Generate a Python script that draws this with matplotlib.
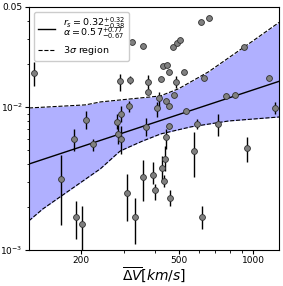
import numpy as np
import matplotlib
matplotlib.use("Agg")
import matplotlib.pyplot as plt

# data points: mean velocity dispersion (km/s), value, error bar ends
x_pts = [128.8, 209.6, 187.3, 223.8, 165.9, 190.9, 201.9, 288.1, 316.4, 313.4,
         290.8, 280.2, 282.8, 290.8, 322.3, 357.3, 473.2, 491.1, 505.1, 614.9,
         662.7, 919.5, 1162, 632.4, 524.4, 430.8, 447.3, 455.7, 422.9, 486.6,
         374.5, 374.5, 477.5, 415.1, 443.1, 455.7, 407.4, 534.3, 776.8, 845.3,
         1218, 367.5, 455.7, 592.2, 721.1, 443.1, 439.0, 426.9, 434.9, 399.8,
         392.4, 357.3, 307.6, 331.5, 460.1, 575.8, 945.7, 620.8]
y_pts = [0.01729, 0.00811, 0.00597, 0.00551, 0.00314, 0.00170, 0.00152, 0.01520, 0.01545, 0.01016,
         0.00894, 0.00786, 0.00648, 0.00597, 0.02848, 0.02671, 0.02628, 0.02803, 0.02941, 0.03930,
         0.04194, 0.02628, 0.01595, 0.01595, 0.01757, 0.01935, 0.01966, 0.01757, 0.01570, 0.01496,
         0.01496, 0.01273, 0.01213, 0.01156, 0.01101, 0.01016, 0.00984, 0.00938, 0.01193, 0.01213,
         0.00984, 0.00724, 0.00736, 0.00760, 0.00760, 0.00617, 0.00433, 0.00374, 0.00304, 0.00263,
         0.00335, 0.00324, 0.00250, 0.00170, 0.00231, 0.00492, 0.00517, 0.00170]
y_low = [0.01402, 0.00702, 0.00492, 0.00492, 0.00150, 0.00119, 0.00095, 0.01294, 0.01448, 0.00923,
         0.00786, 0.00702, 0.00551, 0.00469, 0.02848, 0.02671, 0.02628, 0.02803, 0.02941, 0.03930,
         0.04194, 0.02628, 0.01595, 0.01595, 0.01757, 0.01935, 0.01966, 0.01757, 0.01570, 0.01358,
         0.01336, 0.01273, 0.01213, 0.00968, 0.01101, 0.01016, 0.00851, 0.00938, 0.01193, 0.01213,
         0.00894, 0.00627, 0.00736, 0.00702, 0.00627, 0.00509, 0.00357, 0.00299, 0.00276, 0.00224,
         0.00289, 0.00220, 0.00160, 0.00110, 0.00203, 0.00324, 0.00412, 0.00140]
y_high = [0.02064, 0.00938, 0.00702, 0.00597, 0.00462, 0.00220, 0.00203, 0.01701, 0.01647, 0.01101,
          0.01016, 0.00894, 0.00760, 0.00736, 0.02848, 0.02671, 0.02628, 0.02803, 0.02941, 0.03930,
          0.04194, 0.02628, 0.01595, 0.01595, 0.01757, 0.01935, 0.01966, 0.01757, 0.01570, 0.01647,
          0.01674, 0.01273, 0.01213, 0.01273, 0.01101, 0.01016, 0.01084, 0.00938, 0.01193, 0.01213,
          0.01084, 0.00838, 0.00736, 0.00824, 0.00894, 0.00702, 0.00534, 0.00454, 0.00335, 0.00289,
          0.00412, 0.00426, 0.00340, 0.00231, 0.00263, 0.00669, 0.00617, 0.00203]

# best-fit power law
alpha = 0.57
log_norm = -3.590
fit_x = [123, 1270]

# 3 sigma region boundaries
upper_x = [122.9, 207.7, 238.9, 418.9, 495.8, 656.7, 919.5, 1270]
upper_y = [0.00984, 0.01033, 0.01084, 0.01194, 0.01337, 0.01758, 0.0263, 0.0390]
lower_x = [122.9, 140.1, 198.1, 238.9, 288.0, 347.4, 418.9, 554.7, 791.4, 1270]
lower_y = [0.00160, 0.00194, 0.00294, 0.00368, 0.00492, 0.00569, 0.00647, 0.00725, 0.00798, 0.00851]

fig = plt.figure(figsize=(2.83, 2.86), dpi=100)
ax = fig.add_axes([29/283, 1-250/286, 250/283, 243/286])

ax.set_xscale('log')
ax.set_yscale('log')

grid = np.logspace(np.log10(fit_x[0]), np.log10(fit_x[1]), 200)
up = np.interp(np.log10(grid), np.log10(upper_x), np.log10(upper_y))
lo = np.interp(np.log10(grid), np.log10(lower_x), np.log10(lower_y))
ax.fill_between(grid, 10**lo, 10**up, color=(0.69, 0.69, 1.0), lw=0, zorder=1)
ax.plot(grid, 10**up, 'k--', lw=0.8, zorder=2, label=r'$3\sigma$ region')
ax.plot(grid, 10**lo, 'k--', lw=0.8, zorder=2)

fx = np.array(fit_x, dtype=float)
ax.plot(fx, 10**log_norm * fx**alpha, 'k-', lw=1.0, zorder=3,
        label='$r_s = 0.32^{+0.32}_{-0.38}$\n' + r'$\alpha = 0.57^{+0.77}_{-0.67}$')

xp = np.array(x_pts); yp = np.array(y_pts)
yerr = np.vstack([yp - np.array(y_low), np.array(y_high) - yp])
ax.errorbar(xp, yp, yerr=yerr, fmt='o', color='black', ms=4.2, mfc='#808080',
            mec='#303030', mew=0.6, elinewidth=1.0, capsize=0, zorder=4)

ax.set_xlim(123, 1270)
ax.set_ylim(1e-3, 0.05)
ax.set_xticks([200, 500, 1000])
ax.set_xticklabels(['200', '500', '1000'])
ax.set_yticks([1e-3, 1e-2, 0.05])
ax.set_yticklabels([r'$10^{-3}$', r'$10^{-2}$', '0.05'])
ax.tick_params(which='major', labelsize=6.5, pad=1.5, length=3)
ax.tick_params(which='minor', length=1.8)
ax.set_xlabel(r'$\overline{\Delta V} [km/s]$', fontsize=10, labelpad=0)

h, l = ax.get_legend_handles_labels()
leg = ax.legend(h[::-1], l[::-1], loc='upper left', fontsize=6.8, handlelength=1.9,
                framealpha=1.0, borderpad=0.4, labelspacing=0.3, handletextpad=0.8,
                bbox_to_anchor=(0.0, 1.0))
leg.get_texts()[0].set_linespacing(0.58)

fig.savefig('out.png', dpi=100)
